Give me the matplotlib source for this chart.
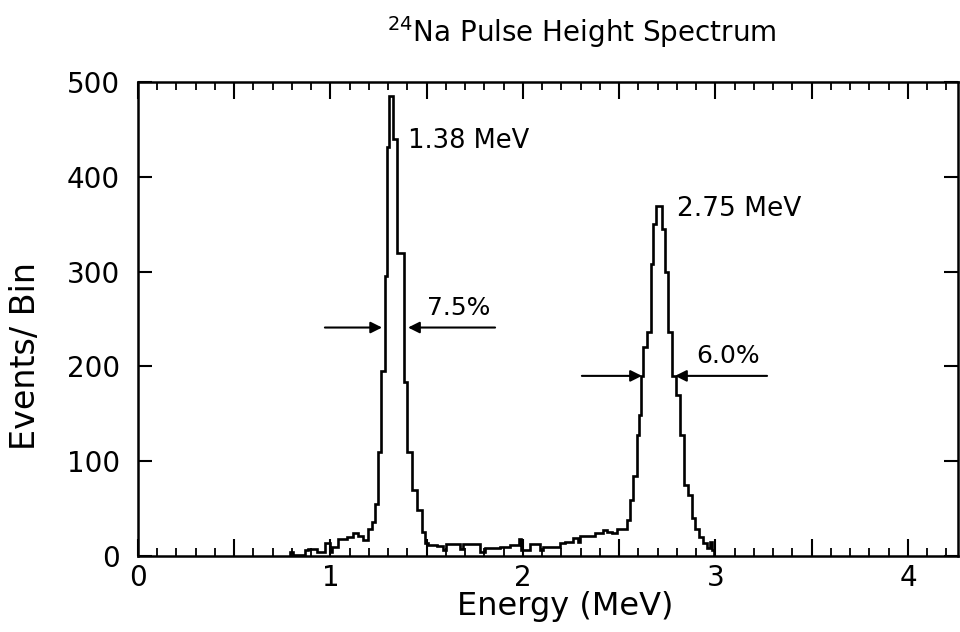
import numpy as np
import matplotlib
matplotlib.use("Agg")
import matplotlib.pyplot as plt
from matplotlib.ticker import MultipleLocator

# ---- data (energy in MeV, counts per bin) ----
bin_edges = [0.790, 0.805, 0.868, 0.883, 0.930, 0.971, 0.997, 1.008, 1.039, 1.086,
             1.117, 1.143, 1.169, 1.195, 1.216, 1.231, 1.247, 1.262, 1.283, 1.294,
             1.304, 1.325, 1.345, 1.382, 1.397, 1.423, 1.449, 1.475, 1.491, 1.506,
             1.553, 1.584, 1.600, 1.673, 1.688, 1.777, 1.803, 1.881, 1.932, 1.979,
             1.990, 2.036, 2.088, 2.104, 2.192, 2.218, 2.260, 2.286, 2.296, 2.374,
             2.416, 2.436, 2.462, 2.488, 2.540, 2.556, 2.571, 2.592, 2.603, 2.613,
             2.623, 2.644, 2.665, 2.675, 2.691, 2.722, 2.738, 2.753, 2.774, 2.795,
             2.816, 2.836, 2.857, 2.878, 2.894, 2.914, 2.935, 2.956, 2.971, 2.982,
             2.992]
counts = [4, 1, 6, 7, 4, 14, 4, 10, 18, 20,
          24, 21, 17, 29, 36, 55, 110, 195, 295, 431,
          485, 440, 320, 184, 110, 70, 49, 25, 14, 12,
          11, 6, 13, 7, 13, 4, 8, 10, 12, 18,
          6, 13, 6, 10, 14, 15, 19, 15, 21, 24,
          27, 25, 24, 28, 38, 59, 84, 128, 149, 190,
          220, 236, 308, 350, 369, 345, 300, 236, 190, 170,
          128, 75, 64, 40, 28, 20, 14, 8, 15, 6]

x_major_ticks = [0, 0.5, 1, 1.5, 2, 2.5, 3, 3.5, 4]
x_tick_labels = ["0", "", "1", "", "2", "", "3", "", "4"]
y_ticks = [0, 100, 200, 300, 400, 500]
y_tick_labels = ["0", "100", "200", "300", "400", "500"]

peak_labels = ["1.38 MeV", "2.75 MeV"]
fwhm_labels = ["7.5%", "6.0%"]

# ---- figure ----
fig = plt.figure(figsize=(9.6, 6.32), dpi=100)
ax = fig.add_axes([0.14375, 0.12025, 0.85417, 0.75])

ax.stairs(counts, bin_edges, color="black", lw=1.9, baseline=0)

ax.set_xlim(0, 4.26)
ax.set_ylim(0, 500)

ax.set_xticks(x_major_ticks)
ax.set_xticklabels(x_tick_labels)
ax.xaxis.set_minor_locator(MultipleLocator(0.1))
ax.set_yticks(y_ticks)
ax.set_yticklabels(y_tick_labels)

ax.tick_params(axis="x", which="major", direction="in", length=12, width=1.5,
               top=True, labelsize=20, pad=6)
ax.tick_params(axis="x", which="minor", direction="in", length=6, width=1.3,
               top=True)
ax.tick_params(axis="y", which="major", direction="in", length=10, width=1.5,
               right=True, labelsize=20, pad=13)

for s in ax.spines.values():
    s.set_linewidth(1.8)

# peak labels
ax.text(1.403, 438, peak_labels[0], fontsize=18.5, ha="left", va="center")
ax.text(2.800, 366, peak_labels[1], fontsize=19, ha="left", va="center")

# FWHM arrows and labels
arrow_kw = dict(arrowstyle="-|>", lw=1.5, color="black", mutation_scale=17,
                shrinkA=0, shrinkB=0)
ax.annotate("", xy=(1.268, 241), xytext=(0.971, 241), arrowprops=arrow_kw)
ax.annotate("", xy=(1.403, 241), xytext=(1.855, 241), arrowprops=arrow_kw)
ax.text(1.668, 262, fwhm_labels[0], fontsize=18, ha="center", va="center")

ax.annotate("", xy=(2.618, 190), xytext=(2.306, 190), arrowprops=arrow_kw)
ax.annotate("", xy=(2.790, 190), xytext=(3.268, 190), arrowprops=arrow_kw)
ax.text(3.067, 211, fwhm_labels[1], fontsize=18, ha="center", va="center")

# titles and axis labels
fig.text(582 / 960, 1 - 32 / 632, r"$^{24}$Na Pulse Height Spectrum",
         fontsize=20, ha="center", va="center")
fig.text(565 / 960, 1 - 606 / 632, "Energy (MeV)", fontsize=23,
         ha="center", va="center")
fig.text(26 / 960, 1 - 356 / 632, "Events/ Bin", fontsize=24, rotation=90,
         ha="center", va="center")

fig.savefig("out.png", dpi=100)
